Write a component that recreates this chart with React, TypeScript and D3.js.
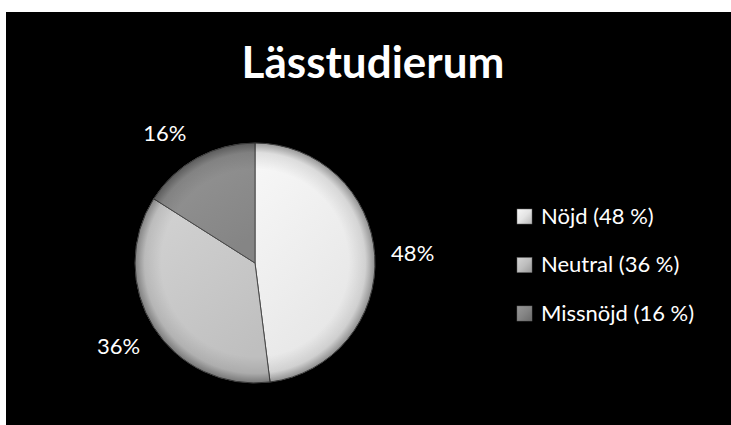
import React from 'react'
import * as d3 from 'd3'

// chart data
const categories = ['Nöjd', 'Neutral', 'Missnöjd']
const shares = [48, 36, 16]
const legendLabels = ['Nöjd (48 %)', 'Neutral (36 %)', 'Missnöjd (16 %)']
const title = 'Lässtudierum'

const sliceColors = ['#e4e4e4', '#bfbfbf', '#858585']
const sliceLight = ['#f8f8f8', '#d4d4d4', '#979797']

const App = () => {
    const width = 731
    const height = 425
    const cx = 255
    const cy = 263
    const radius = 120
    const font = 'Lato, "Open Sans", sans-serif'

    const pie = d3.pie<number>().sort(null).value((d) => d)
    const arcs = pie(shares)
    const arc = d3.arc<d3.PieArcDatum<number>>().innerRadius(0).outerRadius(radius)
    const labelArc = d3.arc<d3.PieArcDatum<number>>().innerRadius(158).outerRadius(158)
    // small best-fit nudges like the original layout
    const nudge = [[0, 0], [-3, -2], [-14, 9]]

    return (
        <svg
            width={width}
            height={height}
            style={{ position: 'absolute', left: 0, top: 0 }}
        >
            <defs>
                {sliceColors.map((c, i) => (
                    <linearGradient key={i} id={`sl${i}`} x1="0" y1="0" x2="0.6" y2="1">
                        <stop offset="0%" stopColor={sliceLight[i]} />
                        <stop offset="100%" stopColor={c} />
                    </linearGradient>
                ))}
                <radialGradient id="edge" cx="0.5" cy="0.5" r="0.5">
                    <stop offset="78%" stopColor="#000" stopOpacity={0} />
                    <stop offset="92%" stopColor="#000" stopOpacity={0.1} />
                    <stop offset="100%" stopColor="#000" stopOpacity={0.38} />
                </radialGradient>
                {sliceColors.map((c, i) => (
                    <linearGradient key={`m${i}`} id={`mk${i}`} x1="0" y1="0" x2="1" y2="1">
                        <stop offset="0%" stopColor={sliceLight[i]} />
                        <stop offset="50%" stopColor={c} />
                        <stop offset="100%" stopColor={d3.color(c)!.darker(0.6).toString()} />
                    </linearGradient>
                ))}
            </defs>
            <rect x={0} y={0} width={width} height={height} fill="#fff" />
            <rect x={6} y={12} width={width - 6} height={height - 12} fill="#000" />

            <text
                x={373}
                y={78}
                textAnchor="middle"
                fill="#fff"
                fontFamily={font}
                fontWeight="bold"
                fontSize={44}
            >
                {title}
            </text>

            <g transform={`translate(${cx},${cy})`}>
                {arcs.map((a, i) => (
                    <path
                        key={categories[i]}
                        d={arc(a) || ''}
                        fill={`url(#sl${i})`}
                        stroke="#4a4a4a"
                        strokeWidth={1}
                    />
                ))}
                <circle r={radius} fill="url(#edge)" />
                {arcs.map((a, i) => {
                    const [lx, ly] = labelArc.centroid(a)
                    return (
                        <text
                            key={`l${i}`}
                            x={lx + nudge[i][0]}
                            y={ly + nudge[i][1]}
                            dy="0.36em"
                            textAnchor="middle"
                            fill="#fff"
                            fontFamily={font}
                            fontSize={22}
                        >
                            {`${shares[i]}%`}
                        </text>
                    )
                })}
            </g>

            <g transform="translate(517,216)">
                {legendLabels.map((t, i) => (
                    <g key={t} transform={`translate(0,${i * 48.5})`}>
                        <rect
                            x={0}
                            y={-7}
                            width={15}
                            height={15}
                            fill={`url(#mk${i})`}
                            stroke="#666"
                            strokeWidth={0.5}
                        />
                        <text
                            x={24}
                            y={0}
                            dy="0.36em"
                            fill="#fff"
                            fontFamily={font}
                            fontSize={22}
                        >
                            {t}
                        </text>
                    </g>
                ))}
            </g>
        </svg>
    )
}

export default App
